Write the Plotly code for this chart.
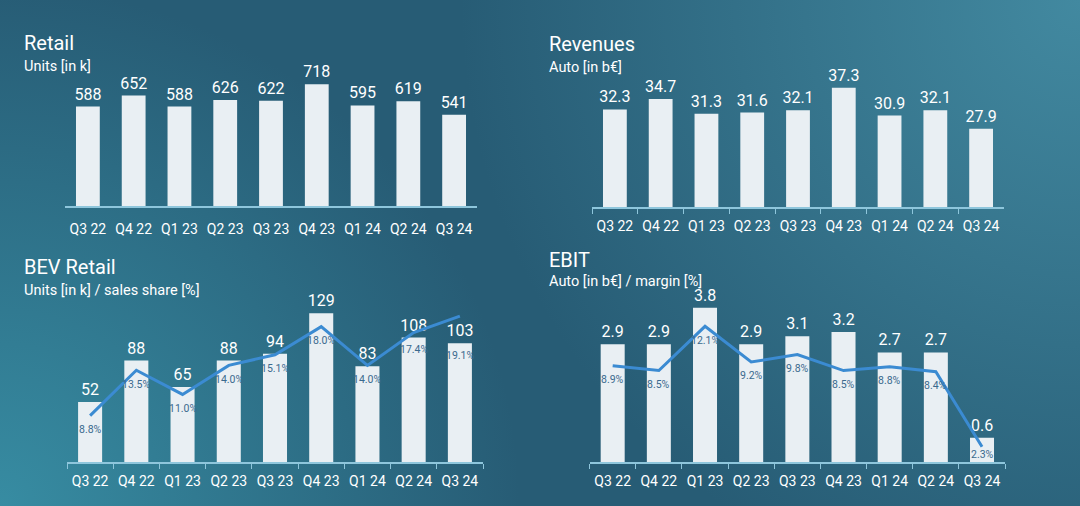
import base64
import plotly.graph_objects as go

# ---------------- data ----------------
quarters = ["Q3 22", "Q4 22", "Q1 23", "Q2 23", "Q3 23", "Q4 23", "Q1 24", "Q2 24", "Q3 24"]
retail_units = [588, 652, 588, 626, 622, 718, 595, 619, 541]
revenues_auto = [32.3, 34.7, 31.3, 31.6, 32.1, 37.3, 30.9, 32.1, 27.9]
bev_units = [52, 88, 65, 88, 94, 129, 83, 108, 103]
bev_share = [8.8, 13.5, 11.0, 14.0, 15.1, 18.0, 14.0, 17.4, 19.1]
ebit_auto = [2.9, 2.9, 3.8, 2.9, 3.1, 3.2, 2.7, 2.7, 0.6]
ebit_margin = [8.9, 8.5, 12.1, 9.2, 9.8, 8.5, 8.8, 8.4, 2.3]

# ---------------- style ----------------
W, H = 1080, 506
FONT = "Roboto, sans-serif"
WHITE = "#ffffff"
BAR = "#e9eff3"
AXIS = "#8ec6dc"
LINE = "#3b8bd2"
PCT = "#3a6a8e"

# panel geometry (pixels from top-left) and value ranges
RET_DOM_X, RET_DOM_Y, RET_RANGE = (65, 477), (206, 60), [10, 859]
REV_DOM_X, REV_DOM_Y, REV_RANGE = (592, 1004), (207, 60), [9.93, 43.65]
BEV_DOM_X, BEV_DOM_Y, BEV_RANGE, BEV_SEC = (67, 483), (462, 300), [0, 140.6], [4.01, 20.76]
EB_DOM_X, EB_DOM_Y, EB_RANGE, EB_SEC = (589.6, 1005.1), (462, 300), [0, 3.99], [1.06, 14.24]


def xd(p):
    return [p[0] / W, p[1] / W]


def yd(p):
    return [1 - p[0] / H, 1 - p[1] / H]


fig = go.Figure()

# Retail
fig.add_trace(go.Bar(x=quarters, y=retail_units, text=[str(v) for v in retail_units],
                     xaxis="x", yaxis="y"))
# Revenues
fig.add_trace(go.Bar(x=quarters, y=revenues_auto, text=[f"{v:.1f}" for v in revenues_auto],
                     xaxis="x2", yaxis="y2"))
# BEV retail
fig.add_trace(go.Bar(x=quarters, y=bev_units, text=[str(v) for v in bev_units],
                     xaxis="x3", yaxis="y3"))
fig.add_trace(go.Scatter(x=quarters, y=bev_share, mode="lines",
                         line=dict(color=LINE, width=3), xaxis="x3", yaxis="y5"))
# EBIT
fig.add_trace(go.Bar(x=quarters, y=ebit_auto, text=[f"{v:.1f}" for v in ebit_auto],
                     xaxis="x4", yaxis="y4"))
fig.add_trace(go.Scatter(x=quarters, y=ebit_margin, mode="lines",
                         line=dict(color=LINE, width=3), xaxis="x4", yaxis="y6"))

fig.update_traces(selector=dict(type="bar"), marker=dict(color=BAR, line=dict(width=0)),
                  width=0.52, textposition="outside", cliponaxis=False, constraintext="none",
                  textfont=dict(size=16, color=WHITE, family=FONT))
fig.update_traces(selector=dict(type="scatter"), cliponaxis=False)
fig.update_traces(showlegend=False, hoverinfo="skip")


# percentage labels: below the line point and below the bar top (inside the bar)
def pct_labels(bars, pct, dom_y, brange, srange, xref, yref):
    height = dom_y[0] - dom_y[1]
    sec_ppu = height / (srange[1] - srange[0])
    bar_ppu = height / (brange[1] - brange[0])
    for q, b, v in zip(quarters, bars, pct):
        # offsets measured downward from the line point, in pixels
        below_point = 14
        below_bar = 12 - ((srange[1] - v) * sec_ppu - (brange[1] - b) * bar_ppu)
        to_base = (v - srange[0]) * sec_ppu - 8
        shift = min(max(below_point, below_bar), to_base)
        fig.add_annotation(x=q, y=v, xref=xref, yref=yref, text=f"{v:.1f}%", showarrow=False,
                           yshift=-shift, font=dict(size=10.5, color=PCT, family=FONT))


pct_labels(bev_units, bev_share, BEV_DOM_Y, BEV_RANGE, BEV_SEC, "x3", "y5")
pct_labels(ebit_auto, ebit_margin, EB_DOM_Y, EB_RANGE, EB_SEC, "x4", "y6")

xcommon = dict(type="category", range=[-0.5, 8.5], showline=True, linecolor=AXIS, linewidth=1.5,
               ticks="outside", tickson="boundaries", ticklen=5, tickwidth=1.2, tickcolor=AXIS,
               tickfont=dict(size=14, color=WHITE, family=FONT), tickangle=0, showgrid=False,
               zeroline=False, ticklabelstandoff=5, fixedrange=True)
ycommon = dict(visible=False, showgrid=False, zeroline=False, fixedrange=True)

fig.update_layout(
    width=W, height=H,
    margin=dict(l=0, r=0, t=0, b=0),
    paper_bgcolor="#2a617a", plot_bgcolor="rgba(0,0,0,0)",
    showlegend=False,
    font=dict(family=FONT, color=WHITE),
    xaxis=dict(xcommon, domain=xd(RET_DOM_X), anchor="y", ticks="", ticklabelstandoff=9),
    yaxis=dict(ycommon, domain=yd(RET_DOM_Y), anchor="x", range=RET_RANGE),
    xaxis2=dict(xcommon, domain=xd(REV_DOM_X), anchor="y2"),
    yaxis2=dict(ycommon, domain=yd(REV_DOM_Y), anchor="x2", range=REV_RANGE),
    xaxis3=dict(xcommon, domain=xd(BEV_DOM_X), anchor="y3"),
    yaxis3=dict(ycommon, domain=yd(BEV_DOM_Y), anchor="x3", range=BEV_RANGE),
    yaxis5=dict(ycommon, overlaying="y3", anchor="x3", range=BEV_SEC),
    xaxis4=dict(xcommon, domain=xd(EB_DOM_X), anchor="y4"),
    yaxis4=dict(ycommon, domain=yd(EB_DOM_Y), anchor="x4", range=EB_RANGE),
    yaxis6=dict(ycommon, overlaying="y4", anchor="x4", range=EB_SEC),
)

# titles
titles = [
    ("Retail", 22, 43, 20), ("Units [in k]", 22, 66, 14.5),
    ("Revenues", 547, 44, 20), ("Auto [in b€]", 547, 67, 14.5),
    ("BEV Retail", 22, 267, 20), ("Units [in k] / sales share [%]", 22, 290, 14.5),
    ("EBIT", 547, 260, 20), ("Auto [in b€] / margin [%]", 547, 281, 14.5),
]
for txt, x, y, s in titles:
    fig.add_annotation(text=txt, x=x / W, y=1 - y / H, xref="paper", yref="paper",
                       xanchor="left", yanchor="middle", showarrow=False,
                       font=dict(size=s, color=WHITE, family=FONT))

# background gradient
svg = f'''<svg xmlns="http://www.w3.org/2000/svg" width="{W}" height="{H}" viewBox="0 0 {W} {H}">
<defs>
<radialGradient id="tr" gradientUnits="userSpaceOnUse" cx="{W}" cy="0" r="620">
<stop offset="0" stop-color="#4289a0" stop-opacity="1"/><stop offset="1" stop-color="#4289a0" stop-opacity="0"/></radialGradient>
<radialGradient id="bl" gradientUnits="userSpaceOnUse" cx="0" cy="{H}" r="520">
<stop offset="0" stop-color="#378ca2" stop-opacity="1"/><stop offset="1" stop-color="#378ca2" stop-opacity="0"/></radialGradient>
</defs>
<rect width="{W}" height="{H}" fill="#275c75"/>
<rect width="{W}" height="{H}" fill="url(#tr)"/>
<rect width="{W}" height="{H}" fill="url(#bl)"/>
</svg>'''
src = "data:image/svg+xml;base64," + base64.b64encode(svg.encode()).decode()
fig.add_layout_image(source=src, xref="paper", yref="paper", x=0, y=1, sizex=1, sizey=1,
                     xanchor="left", yanchor="top", sizing="stretch", layer="below")

fig.write_html("out.html")
